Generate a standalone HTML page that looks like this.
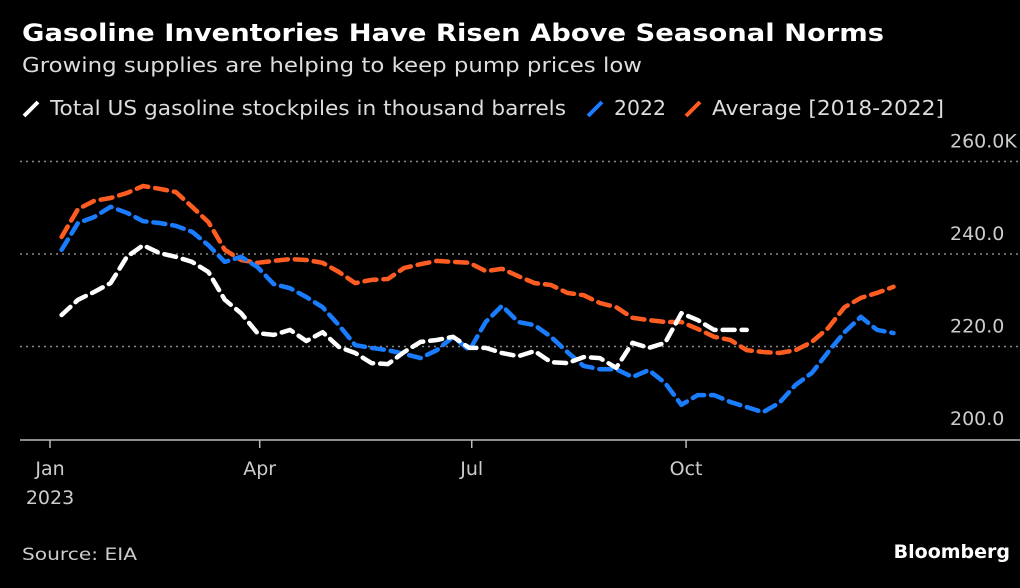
<!DOCTYPE html>
<html><head><meta charset="utf-8">
<style>
body{margin:0;background:#000;width:1020px;height:584px;overflow:hidden;font-family:"DejaVu Sans","Liberation Sans",sans-serif;color:#fff}
</style></head><body>
<svg id="c" width="1020" height="584" font-family="DejaVu Sans, Liberation Sans, sans-serif">
<text x="22" y="41" font-size="24" font-weight="bold" fill="#fff" textLength="862" lengthAdjust="spacingAndGlyphs">Gasoline Inventories Have Risen Above Seasonal Norms</text>
<text x="22" y="72" font-size="20" fill="#ddd" textLength="620" lengthAdjust="spacingAndGlyphs">Growing supplies are helping to keep pump prices low</text>
<g font-size="20" fill="#ddd">
<g><line x1="24" y1="116" x2="38" y2="102" stroke="#fff" stroke-width="4"/><text x="50" y="115" textLength="516" lengthAdjust="spacingAndGlyphs">Total US gasoline stockpiles in thousand barrels</text></g>
<g><line x1="588" y1="116" x2="602" y2="102" stroke="#1a7dff" stroke-width="4"/><text x="614" y="115" textLength="52" lengthAdjust="spacingAndGlyphs">2022</text></g>
<g><line x1="686" y1="116" x2="700" y2="102" stroke="#ff5c22" stroke-width="4"/><text x="712" y="115" textLength="232" lengthAdjust="spacingAndGlyphs">Average [2018-2022]</text></g>
</g>
<g id="grid"></g><g id="axes"></g><g id="series"></g>
<text x="22" y="560" font-size="17" fill="#ccc" textLength="115" lengthAdjust="spacingAndGlyphs">Source: EIA</text>
<text x="1010" y="558" font-size="19" font-weight="bold" fill="#fff" text-anchor="end">Bloomberg</text>
</svg>
<script>
const yTicks=[200,220,240,260];
const yTickLabels=["200.0","220.0","240.0","260.0K"];
const xTickDays=[0,90,181,273];
const xTickLabels=["Jan","Apr","Jul","Oct"];
const total=[226.8,230.1,231.8,233.7,239.4,241.9,240.2,239.4,238.3,236.1,230.1,227.2,222.9,222.5,223.6,221.2,223.1,219.9,218.6,216.4,216.2,218.8,221.0,221.4,222.1,219.7,219.7,218.6,217.9,219.0,216.6,216.4,217.7,217.5,215.4,220.8,219.7,220.8,227.2,225.7,223.6,223.6,223.6];
const y2022=[240.9,246.7,248.0,250.2,248.9,247.1,246.7,246.1,244.8,241.9,238.3,239.4,237.2,233.5,232.6,230.7,228.5,224.6,220.3,219.7,219.2,218.4,217.5,219.2,222.1,219.2,225.3,228.8,225.3,224.6,222.1,218.8,215.8,215.1,215.1,213.4,214.9,212.1,207.4,209.5,209.5,208.0,206.9,205.8,207.8,211.7,214.3,218.8,223.1,226.4,223.6,222.9];
const average=[243.7,249.7,251.5,252.1,253.2,254.7,254.1,253.4,250.2,246.9,240.9,238.7,238.1,238.5,238.9,238.7,238.1,236.1,233.7,234.4,234.6,237.0,237.8,238.5,238.3,238.1,236.3,236.8,235.2,233.7,233.3,231.6,231.1,229.4,228.5,226.2,225.7,225.3,225.3,223.8,222.1,221.4,219.2,218.8,218.6,219.2,221.0,224.0,228.5,230.5,231.6,232.9];
const NS="http://www.w3.org/2000/svg";
const X=d=>50+d*2.33;
const XW=i=>X(5+7*i);
const Y=v=>254+(240-v)*4.625;
function mk(t,a,p){const e=document.createElementNS(NS,t);for(const k in a)e.setAttribute(k,a[k]);p.appendChild(e);return e;}
const g=document.getElementById('grid'),ax=document.getElementById('axes'),s=document.getElementById('series');
yTicks.forEach((v,i)=>{
 if(v>200){const l=mk('line',{x1:20,x2:1020,y1:Y(v),y2:Y(v),stroke:'#888','stroke-width':1.5,'stroke-dasharray':'2,4'},g);
 
 }
 const t=mk('text',{x:950,y:Y(v)-14,'font-size':19,fill:'#ccc'},ax);t.textContent=yTickLabels[i];
 
 
});
const base=mk('line',{x1:20,x2:1020,y1:Y(200)+1,y2:Y(200)+1,stroke:'#bbb','stroke-width':1.5},ax);


xTickDays.forEach((d,i)=>{
 const l=mk('line',{x1:X(d),x2:X(d),y1:Y(200)+1,y2:Y(200)+9,stroke:'#bbb','stroke-width':1.5},ax);
 
 
 const t=mk('text',{x:X(d),y:475,'font-size':19,fill:'#ccc','text-anchor':'middle'},ax);t.textContent=xTickLabels[i];
 
 
});
const yr=mk('text',{x:X(0),y:504,'font-size':19,fill:'#ccc','text-anchor':'middle'},ax);yr.textContent="2023";


function line(arr,col,name){
 const p=mk('path',{d:arr.map((v,i)=>(i?'L':'M')+XW(i).toFixed(1)+','+Y(v).toFixed(1)).join(''),fill:'none',stroke:col,'stroke-width':4.5,'stroke-dasharray':'12,7','stroke-linejoin':'round','stroke-linecap':'round'},s);
 
 
}
line(average,'#ff5c22','average-line');
line(y2022,'#1a7dff','line-2022');
line(total,'#ffffff','total-line');
</script>
</body></html>
